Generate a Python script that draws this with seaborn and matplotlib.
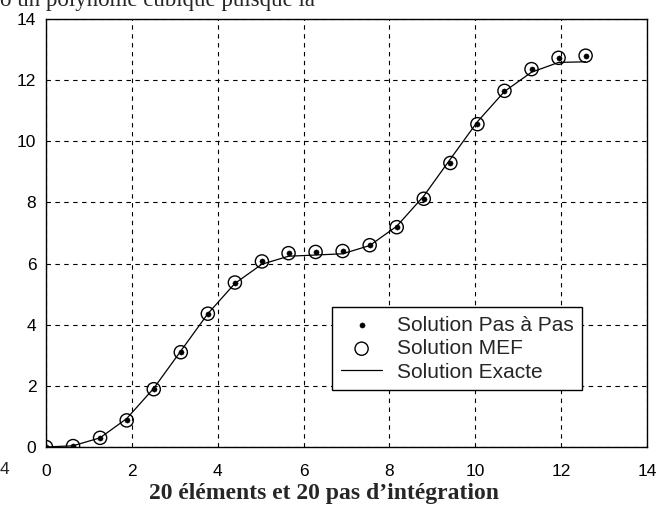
import numpy as np
import pandas as pd
import matplotlib
matplotlib.use("Agg")
import matplotlib.pyplot as plt
import seaborn as sns

# nodes (20 elements over [0, 4*pi])
x_nodes = [0.0, 0.63, 1.26, 1.88, 2.51, 3.14, 3.77, 4.40, 5.03, 5.65, 6.28,
           6.91, 7.54, 8.17, 8.80, 9.42, 10.05, 10.68, 11.31, 11.94, 12.57]
# values
y_pas = [0.0, 0.03, 0.30, 0.87, 1.89, 3.10, 4.36, 5.38, 6.07, 6.34, 6.38,
         6.41, 6.60, 7.19, 8.12, 9.29, 10.56, 11.65, 12.36, 12.73, 12.80]
y_mef = [0.0, 0.03, 0.30, 0.87, 1.89, 3.10, 4.36, 5.38, 6.07, 6.34, 6.38,
         6.41, 6.60, 7.19, 8.12, 9.29, 10.56, 11.65, 12.36, 12.73, 12.80]
y_exact = [0.0, 0.04, 0.30, 0.93, 1.92, 3.14, 4.36, 5.35, 5.98, 6.24, 6.28,
           6.32, 6.59, 7.22, 8.21, 9.42, 10.64, 11.63, 12.26, 12.58, 12.60]
ticks = [0, 2, 4, 6, 8, 10, 12, 14]

df = pd.DataFrame({"x": x_nodes, "pas": y_pas, "mef": y_mef, "exact": y_exact})

sns.set_style("white")
plt.rcParams["font.family"] = ["Liberation Sans", "DejaVu Sans"]

fig = plt.figure(figsize=(6.58, 5.09), dpi=100)
ax = fig.add_axes([46 / 658, 1 - 447 / 509, 601 / 658, 428 / 509])

sns.lineplot(data=df, x="x", y="exact", ax=ax, color="black", linewidth=0.9,
             label="Solution Exacte", zorder=3)
sns.scatterplot(data=df, x="x", y="pas", ax=ax, color="black", s=14, marker="o",
                edgecolor="black", label="Solution Pas à Pas", zorder=4)
sns.scatterplot(data=df, x="x", y="mef", ax=ax, facecolor="none", s=90, marker="o",
                edgecolor="black", linewidth=1.0, label="Solution MEF", zorder=4)

ax.set_xlim(0, 14)
ax.set_ylim(0, 14)
ax.set_xticks(ticks)
ax.set_yticks(ticks)
ax.set_xlabel("")
ax.set_ylabel("")
ax.grid(True, color="black", linestyle=(0, (4, 4)), linewidth=0.8)
for s in ax.spines.values():
    s.set_color("black")
    s.set_linewidth(1.0)
ax.tick_params(axis="both", direction="in", length=4, labelsize=12.5,
               colors="black")
ax.tick_params(axis="x", pad=12)
ax.tick_params(axis="y", pad=7)

h, l = ax.get_legend_handles_labels()
order = [l.index("Solution Pas à Pas"), l.index("Solution MEF"), l.index("Solution Exacte")]
leg = ax.legend([h[i] for i in order], [l[i] for i in order],
                loc="lower right", bbox_to_anchor=(0.892, 0.133), fontsize=15,
                frameon=True, fancybox=False, framealpha=1, edgecolor="black",
                borderpad=0.4, labelspacing=0.22, handlelength=2.0,
                handletextpad=0.7, borderaxespad=0)
leg.get_frame().set_linewidth(1.0)

fig.text(324 / 658, 1 - 494 / 509, "20 éléments et 20 pas d’intégration",
         ha="center", va="center", fontsize=17, fontweight="bold",
         family=["Liberation Serif", "DejaVu Serif"])
fig.text(0.0, 1 - 6 / 509, "o un polynôme cubique puisque la", ha="left",
         va="baseline", fontsize=16.5, family=["Liberation Serif", "DejaVu Serif"])
fig.text(0.0, 1 - 470 / 509, "4", ha="left", va="center", fontsize=12.5)

fig.savefig("out.png", dpi=100)
